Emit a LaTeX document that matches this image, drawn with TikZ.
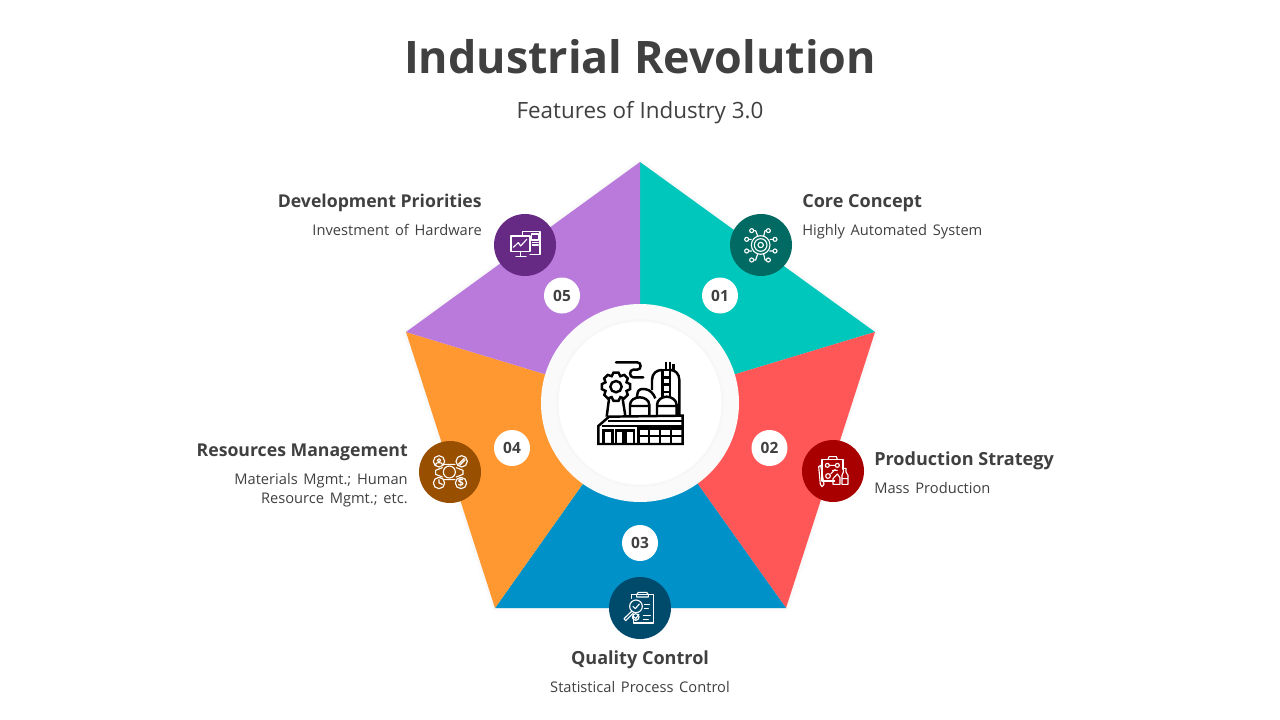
\documentclass[tikz,border=0pt]{standalone}
\usepackage{fontspec}
\setmainfont{Open Sans}
\newfontfamily\descfont[WordSpace=1.5]{Open Sans}
\definecolor{ink}{HTML}{404040}
\definecolor{teal1}{HTML}{00C7BC}
\definecolor{red1}{HTML}{FF5757}
\definecolor{blue1}{HTML}{0091C8}
\definecolor{orange1}{HTML}{FF9830}
\definecolor{purple1}{HTML}{B97ADB}
\definecolor{teal2}{HTML}{006A63}
\definecolor{red2}{HTML}{A80000}
\definecolor{blue2}{HTML}{004A6B}
\definecolor{orange2}{HTML}{994F00}
\definecolor{purple2}{HTML}{672A84}
\newcommand{\pxu}{*0.75pt}
\tikzset{
  iconbadge/.style={circle,minimum size=62\pxu,inner sep=0pt,draw=none},
  numbadge/.style={circle,fill=white,minimum size=36\pxu,inner sep=0pt,text=ink,font=\fontsize{11.6pt}{14pt}\selectfont\bfseries},
  headline/.style={inner sep=0pt,text=ink,font=\fontsize{13.25pt}{17pt}\selectfont\bfseries},
  headwide/.style={inner sep=0pt,text=ink,font=\fontsize{13.55pt}{17pt}\selectfont\bfseries},
  descline/.style={inner sep=0pt,text=ink,font=\descfont\fontsize{11pt}{14.3pt}\selectfont},
  iconline/.style={white,line width=0.85pt,line join=round,line cap=round},
  factoryline/.style={black,line width=1.85pt,line join=miter},
}
\begin{document}
\begin{tikzpicture}[x=0.75pt,y=-0.75pt]
\useasboundingbox (0,0) rectangle (1280,720);
\fill[white] (0,0) rectangle (1280,720);
% pentagon vertices
\coordinate (c) at (640,403);
\coordinate (vt) at (640,162);
\coordinate (vr) at (875,332);
\coordinate (vbr) at (786,608);
\coordinate (vbl) at (495,608);
\coordinate (vl) at (406,332);
\foreach \w/\o in {8/0.008,5/0.01,2/0.012}
  \draw[black,opacity=\o,line width=\w*0.75pt,line join=round] (vt)--(vr)--(vbr)--(vbl)--(vl)--cycle;
\fill[teal1] (c)--(vt)--(vr)--cycle;
\fill[red1] (c)--(vr)--(vbr)--cycle;
\fill[blue1] (c)--(vbr)--(vbl)--cycle;
\fill[orange1] (c)--(vbl)--(vl)--cycle;
\fill[purple1] (c)--(vl)--(vt)--cycle;
% centre
\fill[black!2] (c) circle (99);
\fill[black!3] (c) circle (84);
\fill[white] (c) circle (81.5);
% factory icon
\begin{scope}[shift={(540,300)},scale=1/3]
\draw[factoryline] (175,432)--(428,432)--(428,347)--(207,350)--(175,378)--cycle;
\draw[factoryline] (205,363)--(428,363) (185,378)--(428,378);
\draw[factoryline] (190,432)--(190,391)--(218,391)--(218,432) (228,432)--(228,391)--(250,391)--(250,432) (258,432)--(258,391)--(282,391)--(282,432);
\draw[factoryline] (295,432)--(295,385)--(428,385) (295,408)--(428,408) (327,385)--(327,432) (360,385)--(360,432) (393,385)--(393,432);
\begin{scope}[shift={(228,260)}]
\draw[factoryline] (-22.5:34) \foreach \a in {0,45,...,315}{ -- (\a-22.5:34) -- (\a-10:43) -- (\a+10:43) -- (\a+22.5:34)} -- cycle;
\draw[factoryline] (0,0) circle (17);
\end{scope}
\draw[factoryline] (207,297)--(200,350) (248,297)--(256,348);
\draw[factoryline] (270,347)--(270,315) .. controls (270,300) and (285,292) .. (299,292) .. controls (313,292) and (328,300) .. (328,315)--(328,347) (270,318)--(328,318);
\draw[factoryline] (351,347)--(351,315) .. controls (351,300) and (366,290) .. (380,290) .. controls (394,290) and (410,300) .. (410,315)--(410,347) (351,318)--(410,318);
\draw[factoryline] (336,270)--(336,240) .. controls (336,220) and (350,210) .. (366,210) (392,210) .. controls (406,210) and (418,222) .. (418,240)--(418,347);
\draw[factoryline] (367,210)--(367,290) (390,185)--(390,290) (367,232)--(390,232) (367,254)--(390,254) (367,276)--(390,276) (378,185)--(378,210) (367,210)--(390,210) (400,192)--(400,212);
\draw[factoryline] (290,296)--(293,278) .. controls (295,268) and (305,265) .. (318,268) .. controls (330,270) and (340,280) .. (346,295);
\draw[factoryline,line cap=round] (228,187)--(292,187) .. controls (305,187) and (305,209) .. (292,209)--(280,209) .. controls (267,209) and (267,232) .. (280,232)--(310,232);
\end{scope}
% icon badges
\node[iconbadge,fill=teal2] (b1) at (761,245) {};
\node[iconbadge,fill=red2] (b2) at (833,471) {};
\node[iconbadge,fill=blue2] (b3) at (640,608) {};
\node[iconbadge,fill=orange2] (b4) at (450,472) {};
\node[iconbadge,fill=purple2] (b5) at (525,245) {};
% teal icon
\begin{scope}[shift={(725,210)},scale=1/3]
\draw[iconline] (107,105) circle (28) (107,105) circle (19) (107,105) circle (8);
\foreach \x/\y in {80/62,130/62,65/88,150/88,65/123,150/123,80/150,130/150}{
 \draw[iconline] (\x,\y) circle (6);
}
\draw[iconline] (86,62)--(92,62)--(98,78) (124,62)--(120,62)--(116,78) (71,88)--(79,88) (144,88)--(135,88) (71,123)--(80,123) (144,123)--(134,123) (86,150)--(92,150)--(98,132) (124,150)--(120,150)--(116,132);
\end{scope}
% red icon
\begin{scope}[shift={(798,436)},scale=1/3]
\draw[iconline] (110,135)--(72,135)--(72,70)--(135,70)--(135,100);
\draw[iconline] (90,70)--(93,62)--(115,62)--(118,70);
\draw[iconline] (88,88) circle (6) (118,88) circle (6) (90,120) circle (7);
\draw[iconline] (94,88)--(112,88) (112,100)--(98,114) (103,103)--(118,103);
\draw[iconline] (62,92)--(68,88)--(78,145)--(72,152)--(67,145)--cycle;
\draw[iconline] (132,145)--(132,118)--(136,108)--(136,97)--(144,97)--(144,108)--(150,118)--(150,145)--cycle (132,128)--(150,128);
\draw[iconline] (105,145)--(105,128)--(118,114)--(126,125)--(126,145)--cycle;
\end{scope}
% blue icon
\begin{scope}[shift={(605,573)},scale=1/3]
\draw[iconline] (80,76)--(80,65)--(145,65)--(145,150)--(85,150)--(85,125);
\draw[iconline] (95,65)--(100,58)--(125,58)--(130,65)--(130,72)--(95,72)--cycle;
\draw[iconline] (93,100) circle (19);
\draw[iconline] (84,100)--(91,107)--(103,93);
\draw[iconline] (80,115)--(57,137)--(62,143)--(85,120);
\draw[iconline] (118,94)--(134,94) (118,106)--(130,106) (115,128)--(136,128) (115,140)--(130,140);
\draw[iconline] (92,132) circle (10) (88,132)--(92,137)--(102,124);
\end{scope}
% orange icon
\begin{scope}[shift={(415,437)},scale=1/3]
\draw[iconline] (103,105) circle (18);
\draw[iconline] (88,82)--(120,82) (88,128)--(120,128) (82,92)--(62,100)--(62,112)--(82,120) (124,92)--(144,100)--(144,112)--(124,120);
\draw[iconline] (72,73) circle (17) (140,73) circle (17) (72,138) circle (17) (138,138) circle (17);
\draw[iconline] (72,70) circle (5) (62,84)--(63,80) .. controls (65,76) and (79,76) .. (81,80)--(82,84);
\draw[iconline] (130,82)--(148,64) (134,85)--(151,68);
\draw[iconline] (72,128)--(72,138)--(82,142);
\node[inner sep=0pt,white,font=\fontsize{8pt}{8pt}\selectfont\bfseries] (dollar) at (138,138) {\$};
\end{scope}
% number badges
\node[numbadge] (n1) at (720,295.5) {01};
\node[numbadge] (n2) at (769.5,448) {02};
\node[numbadge] (n3) at (640,543) {03};
\node[numbadge] (n4) at (512,448) {04};
\node[numbadge] (n5) at (562,295.5) {05};
% title
\node[inner sep=0pt,text=ink,anchor=base,font=\fontsize{33.6pt}{40pt}\selectfont\bfseries] (title) at (640,73.5) {Industrial Revolution};
\node[inner sep=0pt,text=ink,anchor=base,font=\fontsize{16.8pt}{20pt}\selectfont] (sub) at (640,118.5) {Features of Industry 3.0};
% labels
\node[headwide,anchor=base west] (h1) at (802,207.5) {Core Concept};
\node[descline,anchor=base west] (d1) at (802,235) {Highly Automated System};
\node[headwide,anchor=base west] (h2) at (874,465) {Production Strategy};
\node[descline,anchor=base west] (d2) at (874,493) {Mass Production};
\node[headwide,anchor=base] (h3) at (640,664) {Quality Control};
\node[descline,anchor=base] (d3) at (640,692) {Statistical Process Control};
\node[headline,anchor=base east] (h4) at (408,456) {Resources Management};
\node[descline,anchor=base east] (d4a) at (408,484) {Materials Mgmt.; Human};
\node[descline,anchor=base east] (d4b) at (408,503) {Resource Mgmt.; etc.};
\node[headline,anchor=base east] (h5) at (482,207.5) {Development Priorities};
\node[descline,anchor=base east] (d5) at (482,235) {Investment of Hardware};
% purple icon
\begin{scope}[shift={(490,210)},scale=1/3]
\draw[iconline] (63,78) rectangle (120,125);
\draw[iconline] (92,125)--(92,138) (78,140)--(108,140);
\draw[iconline] (70,112)--(85,98)--(92,108)--(110,88);
\draw[iconline] (98,78)--(98,65)--(150,65)--(150,133)--(120,133);
\draw[iconline] (125,72) rectangle (145,90);
\draw[iconline] (127,98)--(145,98) (127,105)--(145,105);
\end{scope}
\end{tikzpicture}
\end{document}
